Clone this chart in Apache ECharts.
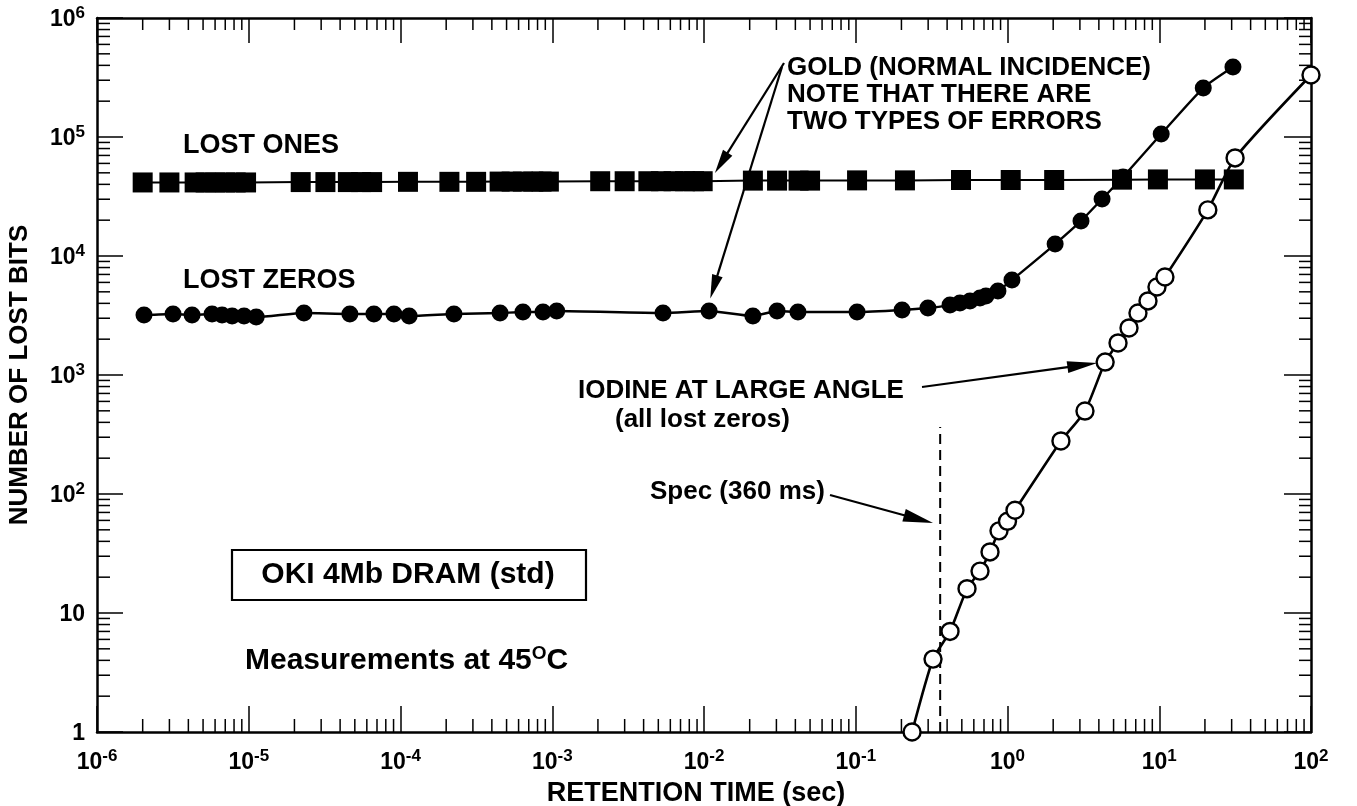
<!DOCTYPE html>
<html>
<head>
<meta charset="utf-8">
<script src="https://cdn.jsdelivr.net/npm/echarts@6/dist/echarts.min.js"></script>
<style>
  html, body { margin: 0; padding: 0; background: #fff; }
  #chart { width: 1357px; height: 806px; }
</style>
</head>
<body>
<div id="chart"></div>
<script>
const FONT = "'Liberation Sans', Arial, Helvetica, sans-serif";

// Gold, normal incidence: lost ones (filled squares)
const lostOnesTime = [2.0e-6, 3.0e-6, 4.4e-6, 5.2e-6, 6.0e-6, 7.0e-6, 8.2e-6, 9.6e-6,
  2.2e-5, 3.2e-5, 4.5e-5, 5.5e-5, 6.5e-5, 1.12e-4, 2.1e-4, 3.15e-4,
  4.5e-4, 5.4e-4, 6.4e-4, 7.5e-4, 8.5e-4, 9.5e-4, 2.07e-3, 3.0e-3,
  4.3e-3, 5.2e-3, 6.3e-3, 7.5e-3, 8.6e-3, 9.8e-3, 2.1e-2, 3.03e-2,
  4.2e-2, 5.0e-2, 0.102, 0.211, 0.494, 1.05, 2.03, 5.68, 9.8, 20.0, 31.0];
const lostOnesBits = [41500, 41500, 41500, 41500, 41500, 41500, 41500, 41500,
  41800, 41800, 41800, 41800, 41800, 42000, 42000, 42000,
  42200, 42200, 42200, 42200, 42200, 42200, 42500, 42500,
  42500, 42500, 42500, 42500, 42500, 42500, 43000, 43000,
  43000, 43000, 43200, 43200, 43500, 43500, 43500, 43800, 44000, 44000, 44000];

// Gold, normal incidence: lost zeros (filled circles)
const lostZerosTime = [2.04e-6, 3.17e-6, 4.23e-6, 5.73e-6, 6.67e-6, 7.77e-6, 9.31e-6, 1.12e-5,
  2.31e-5, 4.64e-5, 6.68e-5, 9.05e-5, 1.14e-4, 2.25e-4, 4.53e-4, 6.41e-4,
  8.69e-4, 1.07e-3, 5.37e-3, 1.08e-2, 2.10e-2, 3.03e-2, 4.16e-2, 0.102,
  0.202, 0.299, 0.418, 0.486, 0.566, 0.659, 0.721, 0.865,
  1.07, 2.06, 3.05, 4.2, 5.77, 10.3, 19.5, 30.6];
const lostZerosBits = [3190, 3260, 3190, 3260, 3190, 3130, 3130, 3070,
  3320, 3260, 3260, 3260, 3130, 3260, 3320, 3380,
  3380, 3450, 3320, 3450, 3130, 3450, 3380, 3380,
  3520, 3660, 3870, 4030, 4190, 4440, 4620, 5080,
  6290, 12600, 19700, 30100, 46100, 106000, 258000, 387000];

// Iodine at large angle (open circles, all lost zeros)
const iodineTime = [0.235, 0.323, 0.418, 0.541, 0.659, 0.767, 0.879, 1.0, 1.12,
  2.25, 3.24, 4.4, 5.35, 6.32, 7.24, 8.43, 9.66, 10.9, 20.9, 31.6, 100];
const iodineBits = [1, 4.1, 7.0, 16, 22.5, 32.6, 49, 59, 73,
  279, 498, 1285, 1858, 2484, 3320, 4190, 5490, 6660, 24400, 66700, 332000];

// Retention spec
const specTime = 0.36;
const specLineTop = 365;

// Axis ranges (powers of ten)
const xExpMin = -6, xExpMax = 2;
const yExpMin = 0, yExpMax = 6;

// Points the annotation arrows aim at, in data units
const goldOnesTip = [0.0118, 49800];
const goldZerosTip = [0.011, 4400];
const iodineTip = [3.9, 1260];
const specTip = [0.323, 57];

const pairs = (xs, ys) => xs.map((x, i) => [x, ys[i]]);

// minor ticks at 2..9 within each decade
const minorTicks = [];
for (let e = xExpMin; e < xExpMax; e++) {
  for (let m = 2; m <= 9; m++) minorTicks.push([m * Math.pow(10, e), 1, 0]);
}
for (let e = yExpMin; e < yExpMax; e++) {
  for (let m = 2; m <= 9; m++) minorTicks.push([Math.pow(10, xExpMin), m * Math.pow(10, e), 1]);
}

const richLabel = {
  b: { fontFamily: FONT, fontWeight: 'bold', fontSize: 23, lineHeight: 26, verticalAlign: 'bottom', color: '#000' },
  s: { fontFamily: FONT, fontWeight: 'bold', fontSize: 17, lineHeight: 15, verticalAlign: 'top', color: '#000' }
};
function powLabel(v, plainSmall) {
  const e = Math.round(Math.log10(v));
  if (plainSmall && e === 0) return '{b|1}';
  if (plainSmall && e === 1) return '{b|10}';
  return '{b|10}{s|' + (e < 0 ? '-' + (-e) : e) + '}';
}

const axisLine = { show: true, lineStyle: { color: '#000', width: 2.5 } };
const tickStyle = { color: '#000', width: 1.5 };

const chart = echarts.init(document.getElementById('chart'), null, { renderer: 'canvas' });

const option = {
  backgroundColor: '#fff',
  animation: false,
  grid: { left: 97, right: 46, top: 18, bottom: 74, containLabel: false, outerBoundsMode: 'none' },
  xAxis: [{
    type: 'log', logBase: 10, min: Math.pow(10, xExpMin), max: Math.pow(10, xExpMax),
    position: 'bottom',
    axisLine, axisTick: { show: true, inside: true, length: 26, lineStyle: tickStyle },
    splitLine: { show: false }, minorTick: { show: false },
    axisLabel: { show: true, margin: 16, formatter: v => powLabel(v, false), rich: richLabel },
    name: 'RETENTION TIME (sec)', nameLocation: 'middle', nameGap: 48,
    nameTextStyle: { fontFamily: FONT, fontWeight: 'bold', fontSize: 27, color: '#000', padding: [0, 16, 0, 0] }
  }, {
    type: 'log', logBase: 10, min: Math.pow(10, xExpMin), max: Math.pow(10, xExpMax),
    position: 'top',
    axisLine, axisTick: { show: true, inside: true, length: 25, lineStyle: tickStyle },
    splitLine: { show: false }, axisLabel: { show: false }
  }],
  yAxis: [{
    type: 'log', logBase: 10, min: Math.pow(10, yExpMin), max: Math.pow(10, yExpMax),
    position: 'left',
    axisLine, axisTick: { show: true, inside: true, length: 26, lineStyle: tickStyle },
    splitLine: { show: false }, minorTick: { show: false },
    axisLabel: { show: true, margin: 12, formatter: v => powLabel(v, true), rich: richLabel },
    name: 'NUMBER OF LOST BITS', nameLocation: 'middle', nameGap: 64,
    nameTextStyle: { fontFamily: FONT, fontWeight: 'bold', fontSize: 26, color: '#000' }
  }, {
    type: 'log', logBase: 10, min: Math.pow(10, yExpMin), max: Math.pow(10, yExpMax),
    position: 'right',
    axisLine, axisTick: { show: true, inside: true, length: 27, lineStyle: tickStyle },
    splitLine: { show: false }, axisLabel: { show: false }
  }],
  series: [
    {
      type: 'custom', name: 'minor ticks', coordinateSystem: 'cartesian2d',
      xAxisIndex: 0, yAxisIndex: 0, silent: true, clip: false, z: 1,
      data: minorTicks,
      renderItem(params, api) {
        const kind = api.value(2);
        const st = { stroke: '#000', lineWidth: 1.5 };
        if (kind === 0) {
          const b = api.coord([api.value(0), Math.pow(10, yExpMin)]);
          const t = api.coord([api.value(0), Math.pow(10, yExpMax)]);
          return { type: 'group', children: [
            { type: 'line', shape: { x1: b[0], y1: b[1], x2: b[0], y2: b[1] - 13 }, style: st },
            { type: 'line', shape: { x1: t[0], y1: t[1], x2: t[0], y2: t[1] + 12 }, style: st }
          ] };
        }
        const l = api.coord([Math.pow(10, xExpMin), api.value(1)]);
        const r = api.coord([Math.pow(10, xExpMax), api.value(1)]);
        return { type: 'group', children: [
          { type: 'line', shape: { x1: l[0], y1: l[1], x2: l[0] + 13, y2: l[1] }, style: st },
          { type: 'line', shape: { x1: r[0], y1: r[1], x2: r[0] - 12, y2: r[1] }, style: st }
        ] };
      }
    },
    {
      type: 'line', name: 'Spec', xAxisIndex: 0, yAxisIndex: 0, silent: true,
      data: [[specTime, Math.pow(10, yExpMin)], [specTime, specLineTop]],
      symbol: 'none', clip: false, z: 2,
      lineStyle: { color: '#000', width: 2, type: [10, 6] }
    },
    {
      type: 'line', name: 'LOST ONES', xAxisIndex: 0, yAxisIndex: 0,
      data: pairs(lostOnesTime, lostOnesBits),
      symbol: 'rect', symbolSize: 20, clip: false, z: 3,
      itemStyle: { color: '#000' },
      lineStyle: { color: '#000', width: 2 }
    },
    {
      type: 'line', name: 'LOST ZEROS', xAxisIndex: 0, yAxisIndex: 0,
      data: pairs(lostZerosTime, lostZerosBits),
      symbol: 'circle', symbolSize: 17, smooth: 0.2, clip: false, z: 4,
      itemStyle: { color: '#000' },
      lineStyle: { color: '#000', width: 2.4 }
    },
    {
      type: 'line', name: 'IODINE', xAxisIndex: 0, yAxisIndex: 0,
      data: pairs(iodineTime, iodineBits),
      symbol: 'circle', symbolSize: 17, smooth: 0.2, clip: false, z: 5,
      itemStyle: { color: '#fff', borderColor: '#000', borderWidth: 2.4 },
      lineStyle: { color: '#000', width: 2.6 }
    }
  ]
};
chart.setOption(option);

function toPx(p) { return chart.convertToPixel({ xAxisIndex: 0, yAxisIndex: 0 }, p); }

function arrow(tail, tip, headLen, headWidth) {
  const dx = tip[0] - tail[0], dy = tip[1] - tail[1];
  const len = Math.hypot(dx, dy), ux = dx / len, uy = dy / len;
  const bx = tip[0] - ux * headLen, by = tip[1] - uy * headLen;
  const px = -uy * headWidth / 2, py = ux * headWidth / 2;
  return [
    { type: 'line', silent: true, z: 20, shape: { x1: tail[0], y1: tail[1], x2: bx + ux * 2, y2: by + uy * 2 },
      style: { stroke: '#000', lineWidth: 2.2 } },
    { type: 'polygon', silent: true, z: 20, shape: { points: [[tip[0], tip[1]], [bx + px, by + py], [bx - px, by - py]] },
      style: { fill: '#000' } }
  ];
}

function label(text, x, y, size, align) {
  return {
    type: 'text', silent: true, z: 20,
    style: { text, x, y, fill: '#000', fontFamily: FONT, fontWeight: 'bold', fontSize: size,
      align: align || 'left', verticalAlign: 'middle' }
  };
}

const goldTail = [784, 63];
const graphics = [
  label('LOST ONES', 183, 146, 27),
  label('LOST ZEROS', 183, 281, 27),
  label('GOLD (NORMAL INCIDENCE)', 787, 68, 26),
  label('NOTE THAT THERE ARE', 787, 95, 26),
  label('TWO TYPES OF ERRORS', 787, 122, 26),
  label('IODINE AT LARGE ANGLE', 578, 391, 26),
  label('(all lost zeros)', 615, 420, 26),
  label('Spec (360 ms)', 650, 492, 26),
  { type: 'rect', silent: true, z: 20, shape: { x: 232, y: 550, width: 354, height: 50 },
    style: { fill: 'none', stroke: '#000', lineWidth: 2.2 } },
  label('OKI 4Mb DRAM (std)', 408, 575, 30, 'center'),
  {
    type: 'text', silent: true, z: 20,
    style: {
      text: '{a|Measurements at 45}{s|O}{a|C}', x: 245, y: 660,
      verticalAlign: 'middle', align: 'left',
      rich: {
        a: { fontFamily: FONT, fontWeight: 'bold', fontSize: 30, lineHeight: 32, verticalAlign: 'bottom', fill: '#000' },
        s: { fontFamily: FONT, fontWeight: 'bold', fontSize: 19, lineHeight: 18, verticalAlign: 'top', fill: '#000' }
      }
    }
  }
];

graphics.push(...arrow(goldTail, toPx(goldOnesTip), 24, 11));
graphics.push(...arrow([goldTail[0] - 2, goldTail[1] + 4], toPx(goldZerosTip), 24, 11));
graphics.push(...arrow([922, 387], toPx(iodineTip), 30, 12));
graphics.push(...arrow([830, 495], toPx(specTip), 30, 13));

chart.setOption({ graphic: graphics });
</script>
</body>
</html>
